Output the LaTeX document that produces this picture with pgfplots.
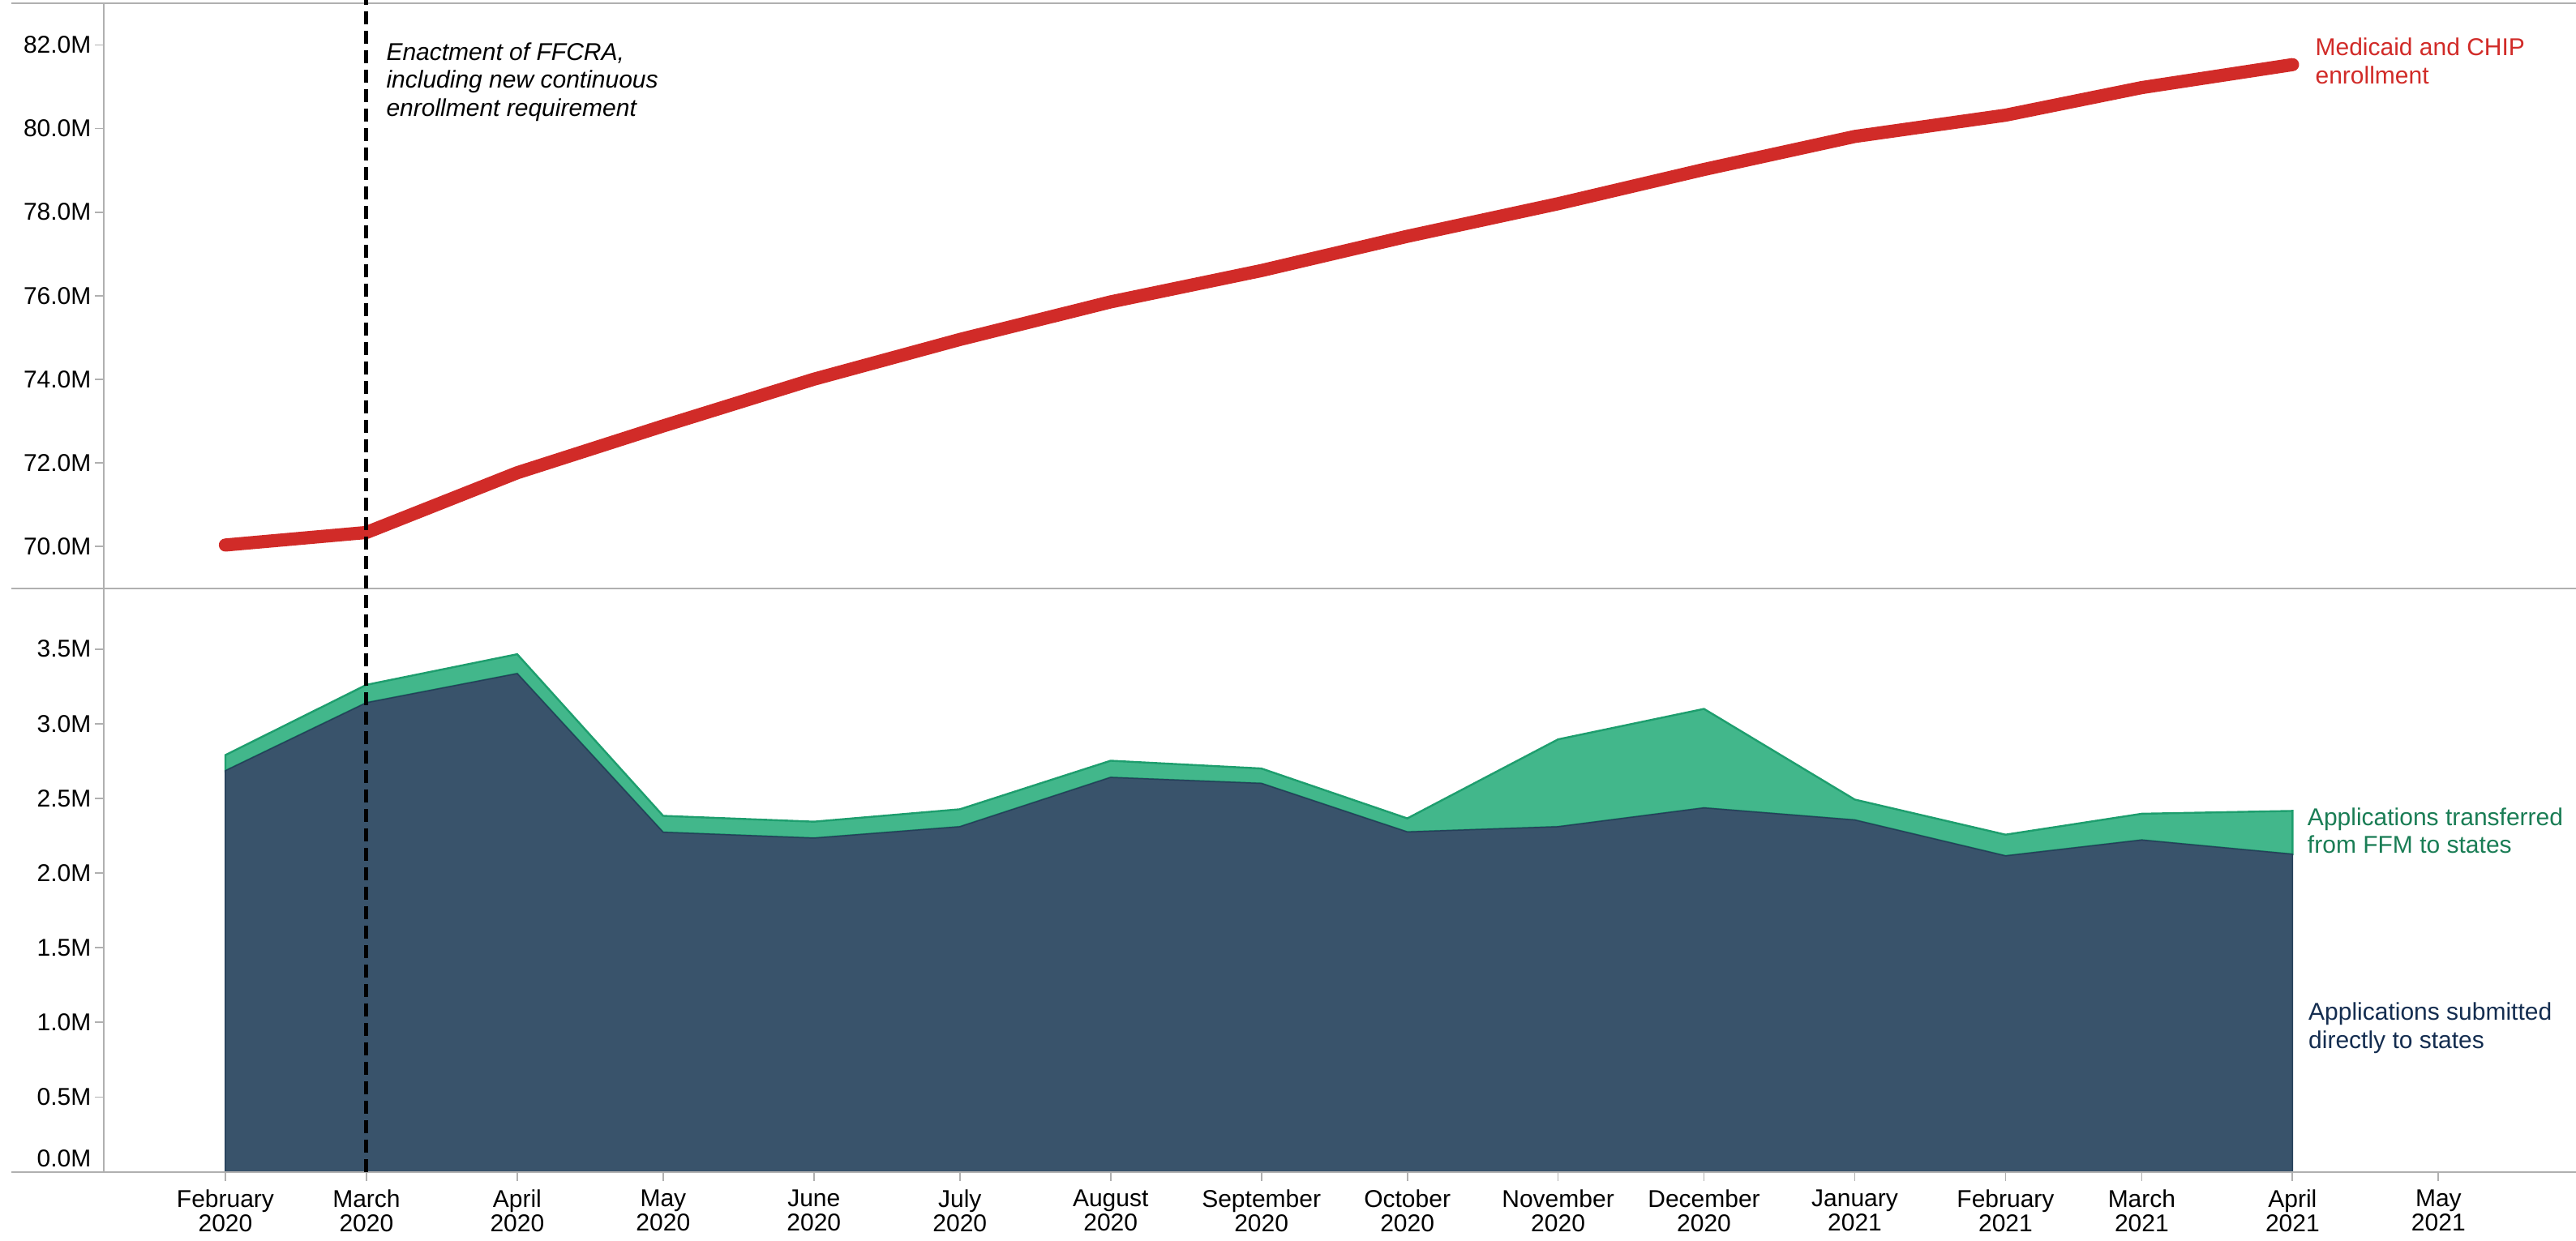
\documentclass[border=0pt]{standalone}
\usepackage{pgfplots}
\pgfplotsset{compat=1.18}
\usepackage{fontspec}
\setmainfont{Liberation Sans}

\definecolor{enroll}{HTML}{D12B28}
\definecolor{direct}{HTML}{39536B}
\definecolor{directedge}{HTML}{25405A}
\definecolor{ffm}{HTML}{42B78B}
\definecolor{ffmedge}{HTML}{1E9E6E}
\definecolor{ffmtext}{HTML}{1A7D55}
\definecolor{directtext}{HTML}{142D50}
\definecolor{rule}{HTML}{B0B0B0}

% x is days since 1 Feb 2020
\pgfplotsset{
  panel/.style={
    scale only axis,
    width=1016.33pt,
    xmin=-25, xmax=483.3,
    axis line style={draw=none},
    tick style={rule, line width=0.6pt},
    tick align=outside,
    major tick length=3.7pt,
    ytick pos=left,
    xtick pos=left,
    /pgf/number format/assume math mode=true,
    tick label style={font=\fontsize{10}{10}\selectfont},
    yticklabel style={inner sep=1.3pt},
    clip=false,
  },
}

\begin{document}
\begin{tikzpicture}

% top panel: enrollment
\begin{axis}[panel,
  at={(0,239.9pt)},
  height=240.67pt,
  ymin=68.99, ymax=83.0,
  xtick=\empty,
  ytick={70,72,74,76,78,80,82},
  yticklabels={70.0M,72.0M,74.0M,76.0M,78.0M,80.0M,82.0M},
]
\draw[rule, line width=0.6pt] (rel axis cs:0,0) -- (rel axis cs:0,1);
\draw[rule, line width=0.6pt] ([xshift=-38pt]rel axis cs:0,1) -- (rel axis cs:1,1);

\addplot[enroll, line width=5.4pt, line cap=round, line join=round] coordinates {
  (0,70.03) (29,70.33) (60,71.76) (90,72.88) (121,74.00) (151,74.95)
  (182,75.85) (213,76.60) (243,77.42) (274,78.20) (304,79.02)
  (335,79.81) (366,80.32) (394,80.98) (425,81.53)
};

\node[anchor=west, inner sep=0, align=left,
  font=\fontsize{10}{11.5}\selectfont\itshape] at (axis cs:33,81.12)
  {Enactment of FFCRA,\\including new continuous\\enrollment requirement};
\node[anchor=west, inner sep=0, align=left, text=enroll,
  font=\fontsize{10}{11.5}\selectfont] at (axis cs:429.6,81.62)
  {Medicaid and CHIP\\enrollment};
\end{axis}

% bottom panel: applications
\begin{axis}[panel,
  at={(0,0)},
  height=239.9pt,
  ymin=0, ymax=3.905,
  stack plots=y,
  xtick={0,29,60,90,121,151,182,213,243,274,304,335,366,394,425,455},
  xticklabels={February\\2020,March\\2020,April\\2020,May\\2020,June\\2020,
    July\\2020,August\\2020,September\\2020,October\\2020,November\\2020,
    December\\2020,January\\2021,February\\2021,March\\2021,April\\2021,May\\2021},
  xticklabel style={align=center},
  ytick={0,0.5,1,1.5,2,2.5,3,3.5},
  yticklabels={{\raisebox{11.4pt}{0.0M}},0.5M,1.0M,1.5M,2.0M,2.5M,3.0M,3.5M},
]
\draw[rule, line width=0.6pt] (rel axis cs:0,0) -- (rel axis cs:0,1);
\draw[rule, line width=0.6pt] ([xshift=-38pt]rel axis cs:0,1) -- (rel axis cs:1,1);
\draw[rule, line width=0.6pt] ([xshift=-38pt]rel axis cs:0,0) -- (rel axis cs:1,0);

% submitted directly to states
\addplot[fill=direct, draw=directedge, line width=0.5pt] coordinates {
  (0,2.685) (29,3.140) (60,3.335) (90,2.273) (121,2.234) (151,2.310)
  (182,2.640) (213,2.600) (243,2.275) (274,2.310) (304,2.436)
  (335,2.355) (366,2.115) (394,2.221) (425,2.126)
} \closedcycle;

% transferred from FFM to states
\addplot[fill=ffm, draw=ffmedge, line width=0.8pt] coordinates {
  (0,0.105) (29,0.120) (60,0.130) (90,0.110) (121,0.110) (151,0.117)
  (182,0.112) (213,0.100) (243,0.091) (274,0.585) (304,0.663)
  (335,0.137) (366,0.142) (394,0.176) (425,0.290)
} \closedcycle;

\node[anchor=west, inner sep=0, align=left, text=ffmtext,
  font=\fontsize{10}{11.5}\selectfont] at (axis cs:428,2.283)
  {Applications transferred\\from FFM to states};
\node[anchor=west, inner sep=0, align=left, text=directtext,
  font=\fontsize{10}{11.5}\selectfont] at (axis cs:428.2,0.962)
  {Applications submitted\\directly to states};

\coordinate (ffcra) at (axis cs:29,0);
\end{axis}

% FFCRA enactment marker, drawn over both panels
\draw[black, line width=1.7pt, dash pattern=on 5.3pt off 2.7pt]
  (ffcra) -- ++(0,481.9pt);

\pgfresetboundingbox
\path[use as bounding box] (-42.67pt,-28.43pt) rectangle (1016.33pt,481.9pt);
\end{tikzpicture}
\end{document}
